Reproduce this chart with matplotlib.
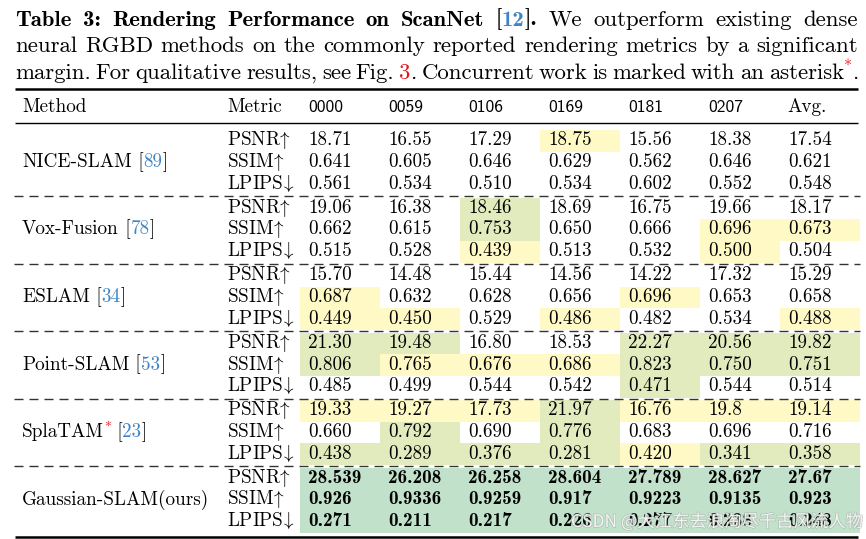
import matplotlib
matplotlib.use("Agg")
import matplotlib.pyplot as plt
import matplotlib.patheffects as pe

plt.rcParams['mathtext.fontset'] = 'cm'

# data
scenes = ["0000", "0059", "0106", "0169", "0181", "0207", "Avg."]
metrics = ["$\\mathrm{PSNR}\\!\\uparrow$", "$\\mathrm{SSIM}\\!\\uparrow$", "$\\mathrm{LPIPS}\\!\\downarrow$"]
methods = ["NICE-SLAM", "Vox-Fusion", "ESLAM", "Point-SLAM", "SplaTAM", "Gaussian-SLAM(ours)"]
refs = ["89", "78", "34", "53", "23", None]
concurrent = [False, False, False, False, True, False]

nice_psnr = ["18.71", "16.55", "17.29", "18.75", "15.56", "18.38", "17.54"]
nice_ssim = ["0.641", "0.605", "0.646", "0.629", "0.562", "0.646", "0.621"]
nice_lpips = ["0.561", "0.534", "0.510", "0.534", "0.602", "0.552", "0.548"]
vox_psnr = ["19.06", "16.38", "18.46", "18.69", "16.75", "19.66", "18.17"]
vox_ssim = ["0.662", "0.615", "0.753", "0.650", "0.666", "0.696", "0.673"]
vox_lpips = ["0.515", "0.528", "0.439", "0.513", "0.532", "0.500", "0.504"]
eslam_psnr = ["15.70", "14.48", "15.44", "14.56", "14.22", "17.32", "15.29"]
eslam_ssim = ["0.687", "0.632", "0.628", "0.656", "0.696", "0.653", "0.658"]
eslam_lpips = ["0.449", "0.450", "0.529", "0.486", "0.482", "0.534", "0.488"]
point_psnr = ["21.30", "19.48", "16.80", "18.53", "22.27", "20.56", "19.82"]
point_ssim = ["0.806", "0.765", "0.676", "0.686", "0.823", "0.750", "0.751"]
point_lpips = ["0.485", "0.499", "0.544", "0.542", "0.471", "0.544", "0.514"]
splatam_psnr = ["19.33", "19.27", "17.73", "21.97", "16.76", "19.8", "19.14"]
splatam_ssim = ["0.660", "0.792", "0.690", "0.776", "0.683", "0.696", "0.716"]
splatam_lpips = ["0.438", "0.289", "0.376", "0.281", "0.420", "0.341", "0.358"]
gs_psnr = ["28.539", "26.208", "26.258", "28.604", "27.789", "28.627", "27.67"]
gs_ssim = ["0.926", "0.9336", "0.9259", "0.917", "0.9223", "0.9135", "0.923"]
gs_lpips = ["0.271", "0.211", "0.217", "0.226", "0.277", "0.238", "0.248"]

# cell shading: y = yellow, g = light green, t = teal, . = none
nice_hl = ["...y...", ".......", "......."]
vox_hl = ["..g....", "..g..yy", "..y..y."]
eslam_hl = [".......", "y...y..", "yy.y..y"]
point_hl = ["gg..ggg", "gyyyggg", "....g.."]
splatam_hl = ["yyygyyy", ".g.g...", "ggggygg"]
gs_hl = ["ttttttt", "ttttttt", "ttttttt"]

table = [
    [nice_psnr, nice_ssim, nice_lpips],
    [vox_psnr, vox_ssim, vox_lpips],
    [eslam_psnr, eslam_ssim, eslam_lpips],
    [point_psnr, point_ssim, point_lpips],
    [splatam_psnr, splatam_ssim, splatam_lpips],
    [gs_psnr, gs_ssim, gs_lpips],
]
shading = [nice_hl, vox_hl, eslam_hl, point_hl, splatam_hl, gs_hl]
fill = {"y": "#fff9c6", "g": "#e1ebbd", "t": "#c1e1cb"}

SERIF = ['cmr10', 'DejaVu Serif']
BOLD = ['cmb10', 'DejaVu Serif']
SANS = ['cmss10', 'DejaVu Sans']
BLUE = '#3d85c6'
RED = '#e8141c'

STYLES = {
    'r': dict(family=SERIF, color='black'),
    'b': dict(family=BOLD, color='black'),
    'bblue': dict(family=BOLD, color=BLUE),
    'blue': dict(family=SERIF, color=BLUE),
    'red': dict(family=SERIF, color=RED),
    'sup': dict(family=SERIF, color=RED, scale=0.7, dy=-0.45),
}

fig = plt.figure(figsize=(8.66, 5.39), dpi=100)
ax = fig.add_axes([0, 0, 1, 1])
ax.set_xlim(0, 866)
ax.set_ylim(539, 0)
ax.axis('off')
renderer = fig.canvas.get_renderer()


def make(s, style, y, size):
    st = STYLES[style]
    fs = size * st.get('scale', 1)
    t = ax.text(0, y + st.get('dy', 0) * size, s, fontsize=fs,
                family=st['family'], color=st['color'], va='baseline', ha='left')
    return t, t.get_window_extent(renderer).width


def put_pieces(x, y, pieces, size):
    for s, style in pieces:
        t, w = make(s, style, y, size)
        t.set_x(x)
        x += w


def justify(y, segments, x0, x1, size):
    words = [[]]
    for text, style in segments:
        for i, p in enumerate(text.split(' ')):
            if i > 0:
                words.append([])
            if p:
                words[-1].append((p, style))
    words = [w for w in words if w]
    rows, totals = [], []
    for w in words:
        row = [make(s, st, y, size) for s, st in w]
        rows.append(row)
        totals.append(sum(wd for _, wd in row))
    gap = (x1 - x0 - sum(totals)) / (len(words) - 1)
    x = x0
    for row in rows:
        for t, wd in row:
            t.set_x(x)
            x += wd
        x += gap


# caption
cap = 16.4
justify(25.5, [("Table 3: Rendering Performance on ScanNet [", 'b'), ("12", 'bblue'),
               ("].", 'b'), (" We outperform existing dense", 'r')], 15, 858, cap)
justify(52.3, [("neural RGBD methods on the commonly reported rendering metrics by a significant", 'r')],
        15, 858, cap)
justify(79, [("margin. For qualitative results, see Fig. ", 'r'), ("3", 'red'),
             (". Concurrent work is marked with an asterisk", 'r'), ("*", 'sup'), (".", 'r')],
        15, 858, cap)

# rules
ax.plot([15, 858], [88.5, 88.5], color='black', lw=1.8, solid_capstyle='butt')
ax.plot([15, 858], [123, 123], color='black', lw=1.0, solid_capstyle='butt')
ax.plot([15, 858], [536.5, 536.5], color='black', lw=1.8, solid_capstyle='butt')

body = 13.8
col_left = [300 + 80 * j for j in range(len(scenes))]

# header
put_pieces(22, 111.5, [("Method", 'r')], body)
put_pieces(227, 111.5, [("Metric", 'r')], body)
for j, s in enumerate(scenes):
    if s == "Avg.":
        ax.text(col_left[j] + 7, 111.5, s, fontsize=body, family=SERIF, va='baseline')
    else:
        ax.text(col_left[j] + 8, 111.5, s, fontsize=12.6, family=SANS, va='baseline')

dash_y = [128.5 + 67.5 * g for g in range(len(methods))]
row_h = 21.7
for g, name in enumerate(methods):
    top = dash_y[g] + 1.5
    if g > 0:
        ax.plot([14, 860], [dash_y[g], dash_y[g]], color='#333333', lw=1.0,
                dashes=(6.5, 4.3), solid_capstyle='butt', dash_capstyle='butt')
    pieces = [(name, 'r')]
    if concurrent[g]:
        pieces.append(("*", 'sup'))
    if refs[g]:
        pieces += [(" [", 'r'), (refs[g], 'blue'), ("]", 'r')]
    put_pieces(22, top + row_h + 15.3, pieces, body)
    for r in range(3):
        rt = top + row_h * r
        base = rt + 15.3
        ax.text(227, base, metrics[r], fontsize=body, va='baseline')
        for j in range(len(scenes)):
            code = shading[g][r][j]
            if code != '.':
                ax.fill_between([col_left[j], col_left[j] + 80], rt, rt + row_h,
                                color=fill[code], lw=0, zorder=0)
            fam = BOLD if code == 't' else SERIF
            ax.text(col_left[j] + 8, base, table[g][r][j], fontsize=body, family=fam,
                    va='baseline')

# watermark
wm, wm_w = make("CSDN @大江东去浪淘尽千古风流人物", 'r', 527, 12.5)
wm.set_family(['Noto Sans CJK SC', 'DejaVu Sans'])
wm_w = wm.get_window_extent(renderer).width
wm.set_x(863 - wm_w)
wm.set_color('white')
wm.set_alpha(0.8)
wm.set_path_effects([pe.withStroke(linewidth=1.0, foreground='#a0a0a0', alpha=0.55)])

fig.savefig("out.png", dpi=100)
